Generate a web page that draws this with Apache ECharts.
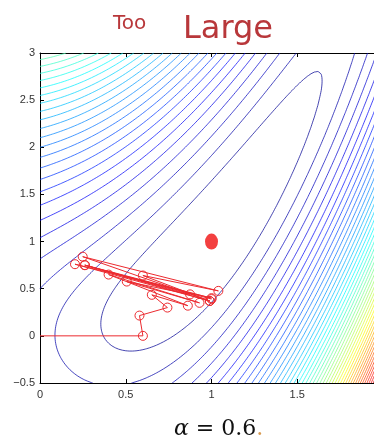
<!DOCTYPE html>
<html>
<head>
<meta charset="utf-8">
<script src="https://cdn.jsdelivr.net/npm/echarts@6/dist/echarts.min.js"></script>
<style>
  html, body { margin: 0; padding: 0; background: #fff; }
  #chart { width: 374px; height: 446px; }
</style>
</head>
<body>
<div id="chart"></div>
<script>
// axis ticks
var xTicks = [0, 0.5, 1, 1.5, 2];
var yTicks = [-0.5, 0, 0.5, 1, 1.5, 2, 2.5, 3];

// gradient descent path (alpha = 0.6)
var pathX = [0, 0.60, 0.58, 0.743, 0.652, 0.862, 0.40, 0.93, 0.506, 0.875, 0.263, 1.00, 0.204, 0.99, 0.249, 1.04, 0.60, 0.99, 0.26, 1.00];
var pathY = [0, 0.00, 0.215, 0.30, 0.435, 0.32, 0.65, 0.35, 0.576, 0.44, 0.75, 0.40, 0.76, 0.37, 0.84, 0.477, 0.64, 0.37, 0.75, 0.39];

// minimum
var optX = [1];
var optY = [1];

// surface being minimised (Rosenbrock-like) and its contour levels
function f(x, y) {
  return (1 - x) * (1 - x) + (y - x * x) * (y - x * x);
}
var nLevels = 50;
var xMin = 0, xMax = 2, yMin = -0.5, yMax = 3;
var step = 0.02;

function jet(t) {
  function c(v) { return Math.max(0, Math.min(1, v)); }
  var r = c(1.5 - Math.abs(4 * t - 3));
  var g = c(1.5 - Math.abs(4 * t - 2));
  var b = c(1.5 - Math.abs(4 * t - 1));
  return 'rgb(' + Math.round(r * 255) + ',' + Math.round(g * 255) + ',' + Math.round(b * 255) + ')';
}

// sample grid
var nx = Math.round((xMax - xMin) / step) + 1;
var ny = Math.round((yMax - yMin) / step) + 1;
var Z = [];
var zMin = Infinity, zMax = -Infinity;
for (var i = 0; i < nx; i++) {
  Z.push([]);
  for (var j = 0; j < ny; j++) {
    var v = f(xMin + i * step, yMin + j * step);
    Z[i].push(v);
    if (v < zMin) zMin = v;
    if (v > zMax) zMax = v;
  }
}

// marching squares, segments chained into polylines
function contour(level) {
  var pts = {};
  var segs = [];
  var byEdge = {};
  function edgePoint(id, x1, y1, v1, x2, y2, v2) {
    if (!pts[id]) {
      var t = (level - v1) / (v2 - v1);
      pts[id] = [x1 + t * (x2 - x1), y1 + t * (y2 - y1)];
    }
    return id;
  }
  for (var i = 0; i < nx - 1; i++) {
    for (var j = 0; j < ny - 1; j++) {
      var x0 = xMin + i * step, x1 = x0 + step;
      var y0 = yMin + j * step, y1 = y0 + step;
      var a = Z[i][j], b = Z[i + 1][j], c = Z[i + 1][j + 1], d = Z[i][j + 1];
      var hits = [];
      if ((a < level) !== (b < level)) hits.push(edgePoint('h' + i + '_' + j, x0, y0, a, x1, y0, b));
      if ((b < level) !== (c < level)) hits.push(edgePoint('v' + (i + 1) + '_' + j, x1, y0, b, x1, y1, c));
      if ((d < level) !== (c < level)) hits.push(edgePoint('h' + i + '_' + (j + 1), x0, y1, d, x1, y1, c));
      if ((a < level) !== (d < level)) hits.push(edgePoint('v' + i + '_' + j, x0, y0, a, x0, y1, d));
      if (hits.length === 2) {
        segs.push([hits[0], hits[1]]);
      } else if (hits.length === 4) {
        var centre = (a + b + c + d) / 4;
        if ((centre < level) === (a < level)) {
          segs.push([hits[0], hits[1]]); segs.push([hits[2], hits[3]]);
        } else {
          segs.push([hits[0], hits[3]]); segs.push([hits[1], hits[2]]);
        }
      }
    }
  }
  segs.forEach(function (s, k) {
    (byEdge[s[0]] = byEdge[s[0]] || []).push(k);
    (byEdge[s[1]] = byEdge[s[1]] || []).push(k);
  });
  var used = [];
  var lines = [];
  function walk(from) {
    var out = [];
    var e = from;
    while (true) {
      var next = (byEdge[e] || []).filter(function (k) { return !used[k]; });
      if (!next.length) break;
      var k = next[0];
      used[k] = true;
      e = segs[k][0] === e ? segs[k][1] : segs[k][0];
      out.push(e);
    }
    return out;
  }
  for (var k = 0; k < segs.length; k++) {
    if (used[k]) continue;
    used[k] = true;
    var fwd = walk(segs[k][1]);
    var back = walk(segs[k][0]);
    var ids = back.reverse().concat([segs[k][0], segs[k][1]], fwd);
    lines.push(ids.map(function (id) { return pts[id]; }));
  }
  return lines;
}

var contourData = [];
for (var n = 1; n <= nLevels; n++) {
  var level = zMin + (zMax - zMin) * n / (nLevels + 1);
  var col = jet((level - zMin) / (zMax - zMin));
  contour(level).forEach(function (pl) {
    contourData.push({ coords: pl, lineStyle: { color: col } });
  });
}

var pathData = pathX.map(function (x, k) {
  var item = { value: [x, pathY[k]] };
  if (k === 0) item.symbol = 'none';
  return item;
});

var font = 'Liberation Sans, Arial, sans-serif';
var axisCommon = {
  type: 'value',
  axisLine: { show: true, onZero: false, lineStyle: { color: '#000', width: 1 } },
  axisTick: { show: true, inside: true, length: 4, lineStyle: { color: '#000' } },
  splitLine: { show: false }
};

var myCharts = echarts.init(document.getElementById('chart'));
var options = {
  backgroundColor: '#fff',
  animation: false,
  grid: { left: 40, top: 53, right: -9, bottom: 63, outerBoundsMode: 'none', containLabel: false },
  xAxis: [
    Object.assign({}, axisCommon, {
      min: xTicks[0], max: xTicks[xTicks.length - 1], interval: 0.5,
      axisLabel: { color: '#333', fontSize: 11, fontFamily: font, margin: 6 }
    }),
    Object.assign({}, axisCommon, {
      position: 'top',
      min: xTicks[0], max: xTicks[xTicks.length - 1], interval: 0.5,
      axisLabel: { show: false }
    })
  ],
  yAxis: [
    Object.assign({}, axisCommon, {
      min: yTicks[0], max: yTicks[yTicks.length - 1], interval: 0.5,
      axisLabel: {
        color: '#333', fontSize: 11, fontFamily: font, margin: 5,
        formatter: function (v) { return String(v).replace('-', '\u2212'); }
      }
    })
  ],
  series: [
    {
      type: 'lines',
      coordinateSystem: 'cartesian2d',
      polyline: true,
      silent: true,
      lineStyle: { width: 1, opacity: 0.72 },
      data: contourData
    },
    {
      type: 'line',
      data: pathData,
      symbol: 'circle',
      symbolSize: 9,
      showAllSymbol: true,
      itemStyle: { color: 'rgba(0,0,0,0)', borderColor: '#ec2a2f', borderWidth: 1 },
      lineStyle: { color: '#ec2a2f', width: 1 },
      z: 5
    },
    {
      type: 'scatter',
      data: optX.map(function (x, k) { return [x, optY[k]]; }),
      symbol: 'circle',
      symbolSize: [13, 16],
      itemStyle: { color: '#f01010' },
      z: 6
    }
  ],
  graphic: [
    {
      type: 'text', left: 113, top: 14,
      style: { text: 'Too', fill: '#b8373a', font: '20px "DejaVu Sans"' }
    },
    {
      type: 'text', left: 183, top: 14,
      style: { text: 'Large', fill: '#b8373a', font: '32px "DejaVu Sans"' }
    },
    {
      type: 'text', left: 174, top: 418,
      style: {
        text: '{i|\u03b1} = 0.6{d|.}',
        fill: '#111',
        font: '22px "DejaVu Serif"',
        rich: {
          i: { font: 'italic 22px "DejaVu Serif"', fill: '#111' },
          d: { font: '22px "DejaVu Serif"', fill: '#d89a50' }
        }
      }
    }
  ]
};
myCharts.setOption(options);
</script>
</body>
</html>
